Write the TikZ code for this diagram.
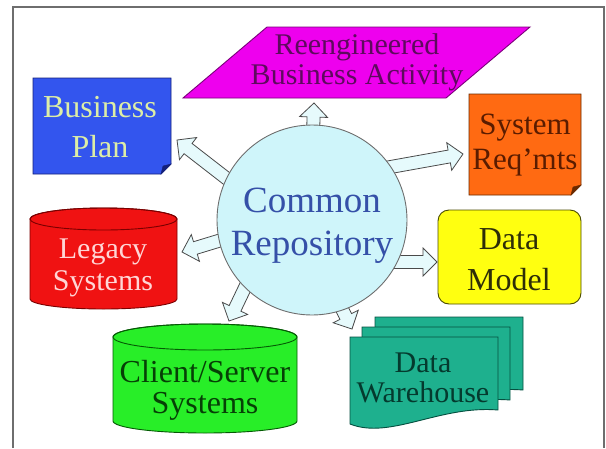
\documentclass[tikz,border=0pt]{standalone}
\usepackage{fontspec}
\setmainfont{Liberation Serif}
\usetikzlibrary{calc}

\pgfdeclarelayer{back}
\pgfsetlayers{back,main}

\definecolor{framegray}{HTML}{6E6E6E}
\definecolor{arrowfill}{HTML}{E6FAFC}
\definecolor{arrowline}{HTML}{4A4A4A}
\definecolor{actfill}{HTML}{EE00EE}
\definecolor{actline}{HTML}{7A007A}
\definecolor{acttext}{HTML}{5E0A5E}
\definecolor{planfill}{HTML}{3355EE}
\definecolor{planline}{HTML}{14207A}
\definecolor{plantext}{HTML}{DDEEA6}
\definecolor{reqfill}{HTML}{FF6A12}
\definecolor{reqline}{HTML}{6A2A00}
\definecolor{reqtext}{HTML}{5A1C00}
\definecolor{repofill}{HTML}{CFF5FA}
\definecolor{repotext}{HTML}{3550A8}
\definecolor{legfill}{HTML}{F01212}
\definecolor{legline}{HTML}{7A0000}
\definecolor{legtext}{HTML}{FFD6D6}
\definecolor{modfill}{HTML}{FFFF10}
\definecolor{modline}{HTML}{4A4A00}
\definecolor{modtext}{HTML}{2E2E08}
\definecolor{clifill}{HTML}{28EE28}
\definecolor{cliline}{HTML}{045A04}
\definecolor{clitext}{HTML}{064006}
\definecolor{housefill}{HTML}{1EB08E}
\definecolor{houseline}{HTML}{055040}
\definecolor{housetext}{HTML}{043A2E}

% hollow block arrow from #1 to the tip #2
\newcommand{\blockarrow}[2]{%
  \coordinate (ah) at ($(#2)!14pt!(#1)$);
  \filldraw[blockarr] ($(#1)!6.5pt!90:(#2)$) -- ($(ah)!6.5pt!-90:(#1)$)
    -- ($(ah)!14pt!-90:(#1)$) -- (#2) -- ($(ah)!14pt!90:(#1)$)
    -- ($(ah)!6.5pt!90:(#1)$) -- ($(#1)!6.5pt!-90:(#2)$) -- cycle;
}

\begin{document}
\begin{tikzpicture}[x=1pt, y=-1pt,
  lbl/.style={align=center, inner sep=0pt},
  blockarr/.style={fill=arrowfill, draw=arrowline, line width=0.8pt, line join=miter}]
\useasboundingbox (0,0) rectangle (606,448);
\draw[framegray, line width=1.2pt] (13,448) -- (13,7) -- (604,7) -- (604,448);

% reengineered activity
\filldraw[fill=actfill, draw=actline, line width=0.9pt]
  (183,98) -- (267,27) -- (530,27) -- (446,98) -- cycle;
\node[lbl, text=acttext, font=\fontsize{30}{30}\selectfont] (act) at (357,62)
  {Reengineered\\Business Activity};

% business plan
\filldraw[fill=planfill, draw=planline, line width=0.9pt]
  (33,78) -- (171,78) -- (171,164) -- (161,174) -- (33,174) -- cycle;
\filldraw[fill=planline, draw=planline] (171,164) -- (161,174) -- (163,166) -- cycle;
\node[lbl, text=plantext, font=\fontsize{32}{40}\selectfont] (plan) at (100,127)
  {Business\\Plan};

% system requirements
\filldraw[fill=reqfill, draw=reqline, line width=0.9pt]
  (469,94) -- (581,94) -- (581,185) -- (571,195) -- (469,195) -- cycle;
\filldraw[fill=reqline, draw=reqline] (581,185) -- (571,195) -- (573,187) -- cycle;
\node[lbl, text=reqtext, font=\fontsize{31}{35}\selectfont] (req) at (525,145)
  {System\\Req’mts};

% legacy systems
\filldraw[fill=legfill, draw=legline, line width=0.9pt]
  (30,219) -- (30,299) arc[start angle=180, end angle=360, x radius=73.5pt, y radius=10pt]
  -- (177,219) arc[start angle=0, end angle=180, x radius=73.5pt, y radius=11pt] -- cycle;
\draw[legline, line width=0.9pt] (103.5,219) ellipse[x radius=73.5pt, y radius=11pt];
\node[lbl, text=legtext, font=\fontsize{30}{32}\selectfont] (legacy) at (103,268)
  {Legacy\\Systems};

% client/server systems
\filldraw[fill=clifill, draw=cliline, line width=0.9pt]
  (113,337) -- (113,421) arc[start angle=180, end angle=360, x radius=92pt, y radius=12pt]
  -- (297,337) arc[start angle=0, end angle=180, x radius=92pt, y radius=13pt] -- cycle;
\draw[cliline, line width=0.9pt] (205,337) ellipse[x radius=92pt, y radius=13pt];
\node[lbl, text=clitext, font=\fontsize{32}{31}\selectfont] (client) at (205,390)
  {Client/Server\\Systems};

% data model
\filldraw[fill=modfill, draw=modline, line width=0.9pt, rounded corners=11pt]
  (438,210) rectangle (581,304);
\node[lbl, text=modtext, font=\fontsize{32}{41}\selectfont] (model) at (509,260)
  {Data\\Model};

% data warehouse
\foreach \dx/\dy in {25/-20, 12/-10, 0/0}
  \filldraw[fill=housefill, draw=houseline, line width=0.9pt, shift={(\dx,\dy)}]
    (350,337) -- (498,337) -- (498,410)
    .. controls (440,405) and (390,440) .. (350,424) -- cycle;
\node[lbl, text=housetext, font=\fontsize{30}{30}\selectfont] (house) at (423,378)
  {Data\\Warehouse};

% common repository
\node[circle, minimum size=190pt, inner sep=0pt, fill=repofill, draw=framegray,
  line width=0.9pt] (repo) at (312,220) {};
\node[lbl, text=repotext, font=\fontsize{37}{43}\selectfont] (repotxt) at (312,226)
  {Common\\Repository};

\coordinate (tipact) at (314,103);
\coordinate (tipplan) at (177,140);
\coordinate (tipreq) at (463,154);
\coordinate (tipleg) at (182,252);
\coordinate (tipmod) at (437,262);
\coordinate (tipcli) at (229,321);
\coordinate (tiphouse) at (352,329);

\begin{pgfonlayer}{back}
\blockarrow{$(repo.center)+(1,-85)$}{tipact}
\blockarrow{$(repo.center)+(-77,-35)$}{tipplan}
\blockarrow{$(repo.center)+(73,-52)$}{tipreq}
\blockarrow{$(repo.center)+(-84,18)$}{tipleg}
\blockarrow{$(repo.center)+(76,42)$}{tipmod}
\blockarrow{$(repo.center)+(-61,55)$}{tipcli}
\blockarrow{$(repo.center)+(23,75)$}{tiphouse}
\end{pgfonlayer}
\end{tikzpicture}
\end{document}
